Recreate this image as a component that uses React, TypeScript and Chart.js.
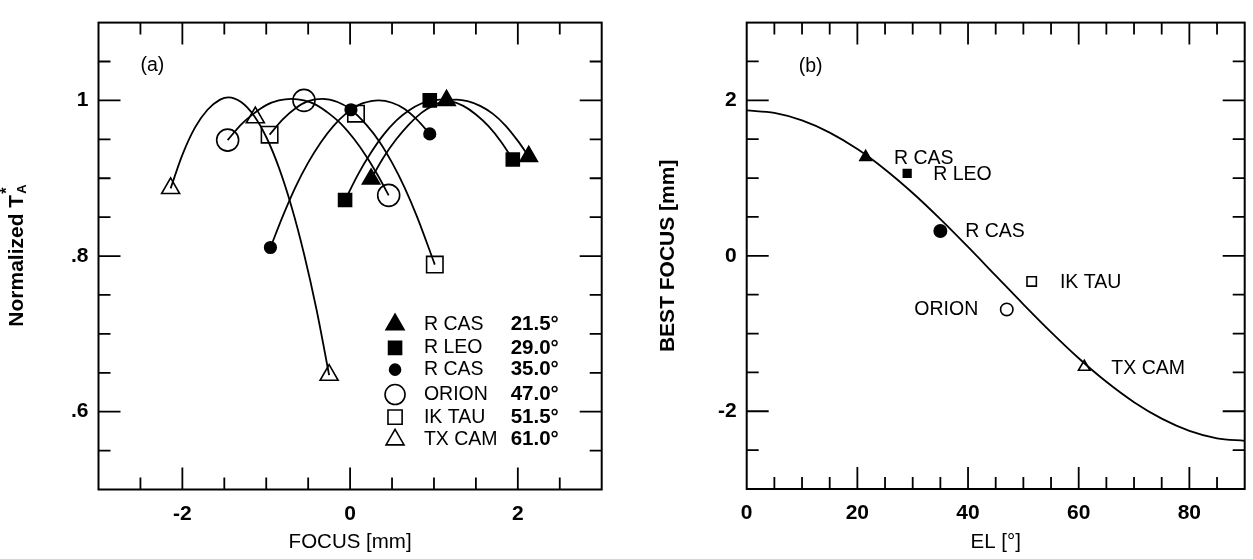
import React, { useEffect, useRef } from 'react';
import { Chart, registerables } from 'chart.js';

Chart.register(...registerables);

const FONT = '"Liberation Sans", Arial, Helvetica, sans-serif';

// ---------- Panel (a): normalized T_A* vs focus ----------
const rCas21Focus = [0.25, 1.15, 2.13];
const rCas21Ta = [0.899, 1.0, 0.928];
const rLeoFocus = [-0.06, 0.95, 1.94];
const rLeoTa = [0.872, 1.0, 0.924];
const rCas35Focus = [-0.95, 0.01, 0.95];
const rCas35Ta = [0.811, 0.988, 0.957];
const orionFocus = [-1.46, -0.55, 0.46];
const orionTa = [0.949, 1.0, 0.878];
const ikTauFocus = [-0.96, 0.07, 1.01];
const ikTauTa = [0.956, 0.983, 0.789];
const txCamFocus = [-2.14, -1.13, -0.25];
const txCamTa = [0.887, 0.978, 0.647];

// fitted curves
const rCas21CurveX = [0.25, 0.4, 0.55, 0.7, 0.85, 1.0, 1.15, 1.27, 1.4, 1.55, 1.7, 1.85, 2.0, 2.13];
const rCas21CurveY = [0.899, 0.927, 0.95, 0.969, 0.984, 0.994, 1.0, 1.001, 0.999, 0.993, 0.983, 0.968, 0.948, 0.928];
const rLeoCurveX = [-0.06, 0.1, 0.25, 0.4, 0.55, 0.7, 0.85, 1.0, 1.07, 1.2, 1.35, 1.5, 1.65, 1.8, 1.94];
const rLeoCurveY = [0.872, 0.906, 0.933, 0.956, 0.974, 0.987, 0.996, 1.0, 1.001, 0.999, 0.993, 0.982, 0.967, 0.947, 0.924];
const rCas35CurveX = [-0.95, -0.8, -0.65, -0.5, -0.35, -0.2, -0.05, 0.1, 0.25, 0.34, 0.5, 0.65, 0.8, 0.95];
const rCas35CurveY = [0.811, 0.852, 0.889, 0.92, 0.946, 0.967, 0.983, 0.994, 0.999, 1.0, 0.997, 0.989, 0.975, 0.957];
const orionCurveX = [-1.46, -1.3, -1.15, -1.0, -0.85, -0.7, -0.55, -0.4, -0.25, -0.1, 0.05, 0.2, 0.35, 0.46];
const orionCurveY = [0.949, 0.969, 0.983, 0.994, 1.0, 1.002, 1.0, 0.994, 0.983, 0.969, 0.95, 0.927, 0.9, 0.878];
const ikTauCurveX = [-0.96, -0.8, -0.65, -0.5, -0.33, -0.15, 0.0, 0.2, 0.35, 0.5, 0.65, 0.8, 1.01];
const ikTauCurveY = [0.956, 0.976, 0.99, 0.999, 1.002, 0.998, 0.989, 0.968, 0.947, 0.92, 0.888, 0.85, 0.789];
const txCamCurveX = [-2.14, -2.0, -1.85, -1.7, -1.55, -1.45, -1.3, -1.15, -1.0, -0.85, -0.7, -0.55, -0.4, -0.25];
const txCamCurveY = [0.887, 0.93, 0.965, 0.988, 1.001, 1.004, 0.998, 0.981, 0.953, 0.914, 0.864, 0.803, 0.731, 0.647];

const legendNames = ['R CAS', 'R LEO', 'R CAS', 'ORION', 'IK TAU', 'TX CAM'];
const legendElevations = ['21.5°', '29.0°', '35.0°', '47.0°', '51.5°', '61.0°'];

const leftXTicks = [-2, 0, 2];
const leftXLabels = ['-2', '0', '2'];
const leftYTicks = [0.6, 0.8, 1.0];
const leftYLabels = ['.6', '.8', '1'];
const leftXMinor = [-2.5, -2, -1.5, -1, -0.5, 0, 0.5, 1, 1.5, 2, 2.5];
const leftYMinor = [0.55, 0.6, 0.65, 0.7, 0.75, 0.8, 0.85, 0.9, 0.95, 1.0, 1.05];

// ---------- Panel (b): best focus vs elevation ----------
const sourceNames = ['R CAS', 'R LEO', 'R CAS', 'ORION', 'IK TAU', 'TX CAM'];
const sourceEl = [21.5, 29.0, 35.0, 47.0, 51.5, 61.0];
const sourceBestFocus = [1.27, 1.06, 0.32, -0.69, -0.33, -1.43];
const fitEl = [0, 5, 10, 15, 20, 25, 30, 35, 40, 45, 50, 55, 60, 65, 70, 75, 80, 85, 90];
const fitFocus = [1.87, 1.838, 1.742, 1.585, 1.373, 1.111, 0.808, 0.472, 0.114, -0.255, -0.624, -0.982, -1.318, -1.621, -1.883, -2.095, -2.252, -2.348, -2.38];

const rightXTicks = [0, 20, 40, 60, 80];
const rightXLabels = ['0', '20', '40', '60', '80'];
const rightYTicks = [-2, 0, 2];
const rightYLabels = ['-2', '0', '2'];
const rightXMinor = [5, 10, 15, 20, 25, 30, 35, 40, 45, 50, 55, 60, 65, 70, 75, 80, 85];
const rightYMinor = [-2.5, -2, -1.5, -1, -0.5, 0, 0.5, 1, 1.5, 2, 2.5];

// annotation anchors (data coordinates)
const rightLabelEl = [26.6, 33.7, 39.5, 30.3, 56.6, 65.9];
const rightLabelFocus = [1.255, 1.05, 0.313, -0.69, -0.34, -1.457];

type Shape = 'triangle' | 'rect' | 'circle';
const shapes: Shape[] = ['triangle', 'rect', 'circle', 'circle', 'rect', 'triangle'];
const filledFlags = [true, true, true, false, false, false];
const leftRadii = [10, 9.2, 5.8, 11, 11.6, 10.4];
const legendRadii = [10.4, 9.2, 5.5, 10, 10, 10.4];
const rightRadii = [6.7, 5.4, 6.2, 6.2, 6.6, 6.7];

function drawMarker(ctx: CanvasRenderingContext2D, shape: Shape, filled: boolean, x: number, y: number, r: number) {
  ctx.beginPath();
  if (shape === 'circle') ctx.arc(x, y, r, 0, Math.PI * 2);
  else if (shape === 'rect') {
    const s = r * Math.SQRT1_2;
    ctx.rect(x - s, y - s, 2 * s, 2 * s);
  } else {
    ctx.moveTo(x, y - r);
    ctx.lineTo(x + 0.866 * r, y + 0.5 * r);
    ctx.lineTo(x - 0.866 * r, y + 0.5 * r);
    ctx.closePath();
  }
  if (filled) {
    ctx.fillStyle = '#000';
    ctx.fill();
  }
  ctx.lineWidth = 1.6;
  ctx.strokeStyle = '#000';
  ctx.stroke();
}

function framePlugin(xMinor: number[], xMajor: number[], yMinor: number[], yMajor: number[]) {
  return {
    id: 'frameTicks',
    beforeDatasetsDraw(chart: any) {
      const { ctx, chartArea: a, scales } = chart;
      const sx = scales.x;
      const sy = scales.y;
      ctx.save();
      ctx.strokeStyle = '#000';
      ctx.lineWidth = 2;
      ctx.strokeRect(a.left, a.top, a.right - a.left, a.bottom - a.top);
      ctx.lineWidth = 1.8;
      ctx.beginPath();
      xMinor.forEach((v) => {
        const len = xMajor.includes(v) ? 22 : 12;
        const p = sx.getPixelForValue(v);
        ctx.moveTo(p, a.bottom);
        ctx.lineTo(p, a.bottom - len);
        ctx.moveTo(p, a.top);
        ctx.lineTo(p, a.top + len);
      });
      yMinor.forEach((v) => {
        const len = yMajor.includes(v) ? 22 : 12;
        const p = sy.getPixelForValue(v);
        ctx.moveTo(a.left, p);
        ctx.lineTo(a.left + len, p);
        ctx.moveTo(a.right, p);
        ctx.lineTo(a.right - len, p);
      });
      ctx.stroke();
      ctx.restore();
    },
  };
}

const leftAnnotations = {
  id: 'leftAnnotations',
  afterDatasetsDraw(chart: any) {
    const { ctx, chartArea: a, scales } = chart;
    const sx = scales.x;
    const sy = scales.y;
    ctx.save();
    ctx.fillStyle = '#000';
    ctx.textBaseline = 'middle';
    ctx.textAlign = 'left';
    ctx.font = `19.5px ${FONT}`;
    ctx.fillText('(a)', sx.getPixelForValue(-2.5), sy.getPixelForValue(1.0445));
    const rowsY = [0.712, 0.682, 0.654, 0.622, 0.593, 0.564];
    legendNames.forEach((name, i) => {
      const py = sy.getPixelForValue(rowsY[i]);
      drawMarker(ctx, shapes[i], filledFlags[i], sx.getPixelForValue(0.536), py, legendRadii[i]);
      ctx.fillStyle = '#000';
      ctx.font = `19.5px ${FONT}`;
      ctx.fillText(name, sx.getPixelForValue(0.88), py);
      ctx.font = `bold 20.5px ${FONT}`;
      ctx.fillText(legendElevations[i], sx.getPixelForValue(1.915), py);
    });
    // y-axis title: Normalized T_A*
    const cy = (a.top + a.bottom) / 2;
    ctx.translate(17, cy);
    ctx.rotate(-Math.PI / 2);
    ctx.font = `bold 21px ${FONT}`;
    const main = 'Normalized T';
    const wMain = ctx.measureText(main).width;
    ctx.font = `bold 13px ${FONT}`;
    const wSub = ctx.measureText('A').width;
    const start = -(wMain + wSub) / 2;
    ctx.font = `bold 21px ${FONT}`;
    ctx.fillText(main, start, 0);
    ctx.font = `bold 13px ${FONT}`;
    ctx.fillText('A', start + wMain + 1, 5);
    ctx.font = `bold 16px ${FONT}`;
    ctx.fillText('*', start + wMain + 1, -9);
    ctx.restore();
  },
};

const rightAnnotations = {
  id: 'rightAnnotations',
  afterDatasetsDraw(chart: any) {
    const { ctx, chartArea: a, scales } = chart;
    const sx = scales.x;
    const sy = scales.y;
    ctx.save();
    ctx.fillStyle = '#000';
    ctx.textBaseline = 'middle';
    ctx.textAlign = 'left';
    ctx.font = `19.5px ${FONT}`;
    ctx.fillText('(b)', sx.getPixelForValue(9.4), sy.getPixelForValue(2.43));
    sourceNames.forEach((name, i) => {
      ctx.fillText(name, sx.getPixelForValue(rightLabelEl[i]), sy.getPixelForValue(rightLabelFocus[i]));
    });
    const cy = (a.top + a.bottom) / 2;
    ctx.translate(48, cy);
    ctx.rotate(-Math.PI / 2);
    ctx.textAlign = 'center';
    ctx.font = `bold 21px ${FONT}`;
    ctx.fillText('BEST FOCUS [mm]', 0, 0);
    ctx.restore();
  },
};

function tickFont() {
  return { family: FONT, size: 21, weight: 'bold' as const };
}

function makeAxis(min: number, max: number, ticks: number[], labels: string[], horizontal: boolean, size: number, title?: string) {
  return {
    type: 'linear' as const,
    min,
    max,
    afterBuildTicks: (s: any) => {
      s.ticks = ticks.map((v) => ({ value: v }));
    },
    afterFit: (s: any) => {
      if (horizontal) s.height = size;
      else s.width = size;
    },
    ticks: {
      callback: (v: any) => {
        const i = ticks.indexOf(Number(v));
        return i >= 0 ? labels[i] : '';
      },
      font: tickFont(),
      color: '#000',
      padding: horizontal ? 12 : 10,
      maxRotation: 0,
      autoSkip: false,
    },
    grid: { display: false, drawTicks: false },
    border: { display: false },
    title: title
      ? { display: true, text: title, color: '#000', font: { family: FONT, size: 20.5 }, padding: { top: 4, bottom: 4 } }
      : { display: false },
  };
}

export default function App() {
  const leftRef = useRef<HTMLCanvasElement | null>(null);
  const rightRef = useRef<HTMLCanvasElement | null>(null);

  useEffect(() => {
    const leftSeries = [
      { fx: rCas21Focus, fy: rCas21Ta, cx: rCas21CurveX, cy: rCas21CurveY },
      { fx: rLeoFocus, fy: rLeoTa, cx: rLeoCurveX, cy: rLeoCurveY },
      { fx: rCas35Focus, fy: rCas35Ta, cx: rCas35CurveX, cy: rCas35CurveY },
      { fx: orionFocus, fy: orionTa, cx: orionCurveX, cy: orionCurveY },
      { fx: ikTauFocus, fy: ikTauTa, cx: ikTauCurveX, cy: ikTauCurveY },
      { fx: txCamFocus, fy: txCamTa, cx: txCamCurveX, cy: txCamCurveY },
    ];

    const leftChart = new Chart(leftRef.current as HTMLCanvasElement, {
      type: 'scatter',
      data: {
        datasets: [
          ...leftSeries.map((s, i) => ({
            label: legendNames[i] + ' fit',
            data: s.cx.map((x, j) => ({ x, y: s.cy[j] })),
            showLine: true,
            pointRadius: 0,
            borderColor: '#000',
            borderWidth: 1.8,
            cubicInterpolationMode: 'monotone' as const,
            fill: false,
          })),
          ...leftSeries.map((s, i) => ({
            label: legendNames[i] + ' ' + legendElevations[i],
            data: s.fx.map((x, j) => ({ x, y: s.fy[j] })),
            showLine: false,
            pointStyle: shapes[i],
            pointRadius: leftRadii[i],
            pointBackgroundColor: filledFlags[i] ? '#000' : 'rgba(0,0,0,0)',
            pointBorderColor: '#000',
            pointBorderWidth: 1.6,
          })),
        ],
      },
      options: {
        animation: false,
        responsive: false,
        devicePixelRatio: 1,
        layout: { padding: { top: 8.5, right: 18.3, left: 0, bottom: 0 } },
        plugins: { legend: { display: false }, tooltip: { enabled: false } },
        scales: {
          x: makeAxis(-3, 3, leftXTicks, leftXLabels, true, 69.5, 'FOCUS [mm]'),
          y: makeAxis(0.5, 1.1, leftYTicks, leftYLabels, false, 98.5),
        },
      },
      plugins: [framePlugin(leftXMinor, leftXTicks, leftYMinor, leftYTicks), leftAnnotations],
    } as any);

    const rightChart = new Chart(rightRef.current as HTMLCanvasElement, {
      type: 'scatter',
      data: {
        datasets: [
          {
            label: 'fit',
            data: fitEl.map((x, j) => ({ x, y: fitFocus[j] })),
            showLine: true,
            pointRadius: 0,
            borderColor: '#000',
            borderWidth: 1.8,
            cubicInterpolationMode: 'monotone' as const,
            fill: false,
          },
          ...sourceNames.map((name, i) => ({
            label: name,
            data: [{ x: sourceEl[i], y: sourceBestFocus[i] }],
            showLine: false,
            pointStyle: shapes[i],
            pointRadius: rightRadii[i],
            pointBackgroundColor: filledFlags[i] ? '#000' : 'rgba(0,0,0,0)',
            pointBorderColor: '#000',
            pointBorderWidth: 1.6,
          })),
        ],
      },
      options: {
        animation: false,
        responsive: false,
        devicePixelRatio: 1,
        layout: { padding: { top: 6.5, right: 5, left: 0, bottom: 0 } },
        plugins: { legend: { display: false }, tooltip: { enabled: false } },
        scales: {
          x: makeAxis(0, 90, rightXTicks, rightXLabels, true, 70, 'EL [°]'),
          y: makeAxis(-3, 3, rightYTicks, rightYLabels, false, 126.7),
        },
      },
      plugins: [framePlugin(rightXMinor, rightXTicks, rightYMinor, rightYTicks), rightAnnotations],
    } as any);

    return () => {
      leftChart.destroy();
      rightChart.destroy();
    };
  }, []);

  return (
    <div style={{ position: 'absolute', left: 0, top: 0, width: 1253, height: 559, background: '#fff' }}>
      <canvas ref={leftRef} width={620} height={559} style={{ position: 'absolute', left: 0, top: 0, width: 620, height: 559 }} />
      <canvas ref={rightRef} width={633} height={559} style={{ position: 'absolute', left: 620, top: 0, width: 633, height: 559 }} />
    </div>
  );
}
